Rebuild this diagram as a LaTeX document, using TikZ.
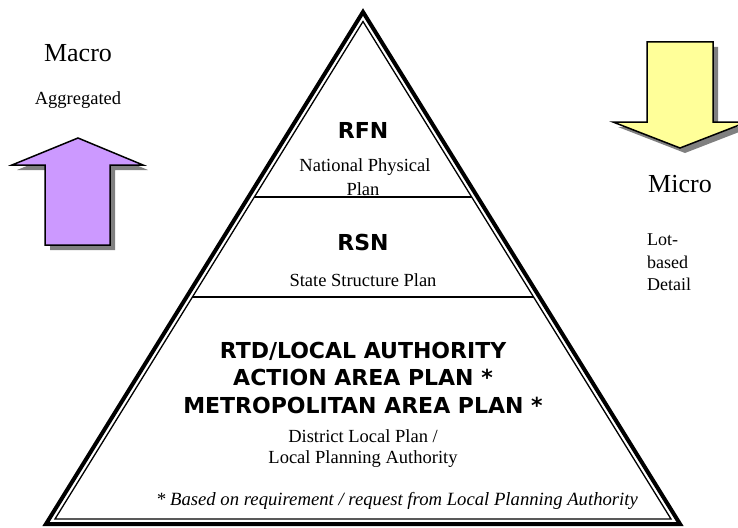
\documentclass[tikz,border=0pt]{standalone}
\usepackage{fontspec}
\setmainfont{Liberation Serif}
\newfontfamily\heavysans{DejaVu Sans}
\definecolor{liftviolet}{HTML}{CC99FF}
\definecolor{dropyellow}{HTML}{FFFF99}
\definecolor{shadowgray}{HTML}{808080}
\begin{document}
\begin{tikzpicture}[x=1pt,y=-1pt,
  body/.style={font=\fontsize{18.5}{23}\selectfont, inner sep=0pt, anchor=base},
  sidenote/.style={font=\fontsize{18}{22}\selectfont, inner sep=0pt, anchor=base west},
  tier/.style={font=\heavysans\bfseries\fontsize{22}{27}\selectfont, inner sep=0pt, anchor=base},
  scale label/.style={font=\fontsize{26}{30}\selectfont, inner sep=0pt, anchor=base},
  arrowbody/.style={draw=black, line width=1.5pt, line join=miter},
  arrowshadow/.style={fill=shadowgray},
  rim/.style={draw=black, line width=4pt, line join=miter},
  innerrim/.style={draw=black, line width=1.3pt, line join=miter},
  divider/.style={draw=black, line width=1.4pt},
]
\useasboundingbox (0,0) rectangle (738,527);

% --- pyramid: thick outer rim and thin inner rim ---
\coordinate (apex) at (363,12);
\coordinate (bl) at (46,524);
\coordinate (br) at (680,524);
\coordinate (iapex) at (363,21.5);
\coordinate (ibl) at (55,519);
\coordinate (ibr) at (671,519);
\draw[rim] (apex) -- (bl) -- (br) -- cycle;
\draw[innerrim] (iapex) -- (ibl) -- (ibr) -- cycle;

% tier dividers run between the inner sides
\coordinate (d1l) at (intersection of iapex--ibl and 0,197--1,197);
\coordinate (d1r) at (intersection of iapex--ibr and 0,197--1,197);
\coordinate (d2l) at (intersection of iapex--ibl and 0,297--1,297);
\coordinate (d2r) at (intersection of iapex--ibr and 0,297--1,297);
\draw[divider] (d1l) -- (d1r);
\draw[divider] (d2l) -- (d2r);

% --- upward arrow (aggregation) ---
\begin{scope}[shift={(5,5)}]
  \fill[arrowshadow] (78,138) -- (143,165) -- (110,165) -- (110,245) -- (45,245) -- (45,165) -- (12,165) -- cycle;
\end{scope}
\draw[arrowbody, fill=liftviolet] (78,138) -- (143,165) -- (110,165) -- (110,245) -- (45,245) -- (45,165) -- (12,165) -- cycle;

% --- downward arrow (detail) ---
\begin{scope}[shift={(5,5)}]
  \fill[arrowshadow] (647,42) -- (713,42) -- (713,122) -- (747,122) -- (680,148) -- (613,122) -- (647,122) -- cycle;
\end{scope}
\draw[arrowbody, fill=dropyellow] (647,42) -- (713,42) -- (713,122) -- (747,122) -- (680,148) -- (613,122) -- (647,122) -- cycle;

% --- side labels ---
\node[scale label] (macro) at (78,62) {Macro};
\node[body] (aggregated) at (78,104) {Aggregated};
\node[scale label] (micro) at (680,192) {Micro};
\node[sidenote] (lot) at (647,245) {Lot-};
\node[sidenote] (based) at (647,268) {based};
\node[sidenote] (detail) at (647,290) {Detail};

% --- top tier ---
\node[tier] (rfn) at (363,138) {RFN};
\node[body] (npp1) at (365,171) {National Physical};
\node[body] (npp2) at (363,195) {Plan};

% --- middle tier ---
\node[tier] (rsn) at (363,250) {RSN};
\node[body] (ssp) at (363,286) {State Structure Plan};

% --- bottom tier ---
\node[tier] (rtd1) at (363,358) {RTD/LOCAL AUTHORITY};
\node[tier] (rtd2) at (363,385) {ACTION AREA PLAN *};
\node[tier] (rtd3) at (363,413) {METROPOLITAN AREA PLAN *};
\node[body] (dlp1) at (363,442) {District Local Plan /};
\node[body] (dlp2) at (363,463) {Local Planning Authority};
\node[body, font=\itshape\fontsize{18.7}{23}\selectfont] (note) at (397,505) {* Based on requirement / request from Local Planning Authority};
\end{tikzpicture}
\end{document}
